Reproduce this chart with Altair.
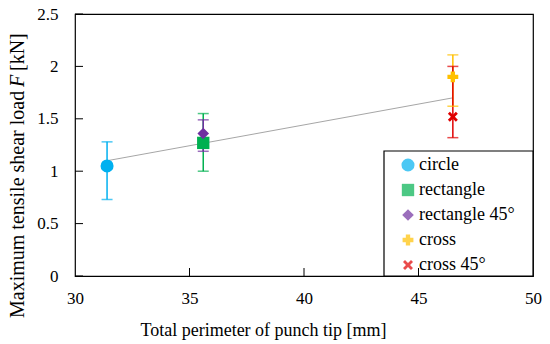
import altair as alt
import pandas as pd

series = ["circle", "rectangle", "rectangle 45°", "cross", "cross 45°"]
perimeter = [31.4, 35.6, 35.6, 46.5, 46.5]
load = [1.05, 1.27, 1.36, 1.90, 1.52]
err_low = [0.73, 1.00, 1.19, 1.62, 1.32]
err_high = [1.28, 1.55, 1.49, 2.11, 2.00]
colors = ["#00B0F0", "#00B050", "#7030A0", "#FFC000", "#E00000"]
sizes = [170, 100, 150, 240, 230]
x_path = ("M-1,-0.6L-0.6,-1L0,-0.4L0.6,-1L1,-0.6L0.4,0L1,0.6L0.6,1"
          "L0,0.4L-0.6,1L-1,0.6L-0.4,0Z")
shapes = ["circle", "square", "diamond", "cross", x_path]

trend_x = [31.4, 46.5]
trend_y = [1.10, 1.70]

x_ticks = [30, 35, 40, 45, 50]
x_inner_ticks = [35, 40, 45]
y_ticks = [0, 0.5, 1, 1.5, 2, 2.5]

FONT = "Times New Roman, Liberation Serif, serif"
W, H = 458, 262

df = pd.DataFrame({"series": series, "x": perimeter, "y": load,
                   "lo": err_low, "hi": err_high})
trend = pd.DataFrame({"x": trend_x, "y": trend_y})

xs = alt.Scale(domain=[30, 50], nice=False, zero=False)
ys = alt.Scale(domain=[0, 2.5], nice=False)

x_axis = alt.Axis(values=x_ticks, title="Total perimeter of punch tip [mm]",
                  grid=False, domain=False, ticks=False, tickSize=0,
                  format="~g", labelFlush=False,
                  labelFont=FONT, labelFontSize=17, labelColor="black",
                  labelPadding=14, titleFont=FONT, titleFontSize=18,
                  titleFontWeight="normal", titleColor="black",
                  titleX=188, titlePadding=15)
y_axis = alt.Axis(values=y_ticks, title=None, grid=False, domain=False,
                  ticks=False, tickSize=0, format="~g", labelFlush=False,
                  labelFont=FONT, labelFontSize=17, labelColor="black",
                  labelPadding=17)

color = alt.Color("series:N", scale=alt.Scale(domain=series, range=colors),
                  legend=alt.Legend(title=None))
shape = alt.Shape("series:N", scale=alt.Scale(domain=series, range=shapes),
                  legend=alt.Legend(title=None))

base = alt.Chart(df)

trend_line = alt.Chart(trend).mark_line(color="#A6A6A6", strokeWidth=1).encode(
    x=alt.X("x:Q", scale=xs, axis=x_axis),
    y=alt.Y("y:Q", scale=ys, axis=y_axis),
)

err_rule = base.mark_rule(strokeWidth=1.5).encode(
    x=alt.X("x:Q", scale=xs), y=alt.Y("lo:Q", scale=ys), y2="hi:Q", color=color)
cap_lo = base.mark_tick(orient="horizontal", size=11, thickness=1.5).encode(
    x=alt.X("x:Q", scale=xs), y=alt.Y("lo:Q", scale=ys), color=color)
cap_hi = base.mark_tick(orient="horizontal", size=11, thickness=1.5).encode(
    x=alt.X("x:Q", scale=xs), y=alt.Y("hi:Q", scale=ys), color=color)

points = base.mark_point(filled=True, opacity=1, strokeWidth=0).encode(
    x=alt.X("x:Q", scale=xs), y=alt.Y("y:Q", scale=ys), color=color,
    shape=shape,
    size=alt.Size("series:N", scale=alt.Scale(domain=series, range=sizes),
                  legend=None))

legend_box = alt.Chart(pd.DataFrame({"a": [0]})).mark_rect(
    fill="white", stroke="black", strokeWidth=1.2).encode(
    x=alt.value(309), x2=alt.value(W), y=alt.value(137), y2=alt.value(H))

yt = pd.DataFrame({"v": y_ticks})
y_tick_marks = alt.Chart(yt).mark_rule(color="black", strokeWidth=1).encode(
    y=alt.Y("v:Q", scale=ys), x=alt.value(0), x2=alt.value(8))
xt = pd.DataFrame({"v": x_inner_ticks})
x_tick_marks = alt.Chart(xt).mark_rule(color="black", strokeWidth=1).encode(
    x=alt.X("v:Q", scale=xs), y=alt.value(H), y2=alt.value(H - 8))

title_df = pd.DataFrame({"a": [0]})
TS = 20
t1 = alt.Chart(title_df).mark_text(text="Maximum tensile shear load", angle=270,
                                   align="left", baseline="middle", font=FONT,
                                   fontSize=TS, color="black").encode(
    x=alt.value(-57), y=alt.value(304))
t2 = alt.Chart(title_df).mark_text(text="F", angle=270, align="left",
                                   baseline="middle", font=FONT, fontSize=TS,
                                   fontStyle="italic", color="black").encode(
    x=alt.value(-57), y=alt.value(73))
t3 = alt.Chart(title_df).mark_text(text="[kN]", angle=270, align="left",
                                   baseline="middle", font=FONT, fontSize=TS,
                                   color="black").encode(
    x=alt.value(-57), y=alt.value(57))

chart = alt.layer(
    trend_line, legend_box, y_tick_marks, x_tick_marks,
    err_rule, cap_lo, cap_hi, points, t1, t2, t3
).properties(
    width=W, height=H,
    autosize=alt.AutoSizeParams(type="none"),
    padding={"left": 67, "top": 6, "right": 9, "bottom": 66},
).configure_view(
    stroke="black", strokeWidth=1.2
).configure_legend(
    orient="none", legendX=324, legendY=142, labelFont=FONT,
    labelFontSize=18, labelColor="black", symbolSize=100, rowPadding=7,
    symbolStrokeWidth=0, labelOffset=2, padding=0
)

chart.save("out.html", embed_options={"renderer": "svg", "actions": False})
